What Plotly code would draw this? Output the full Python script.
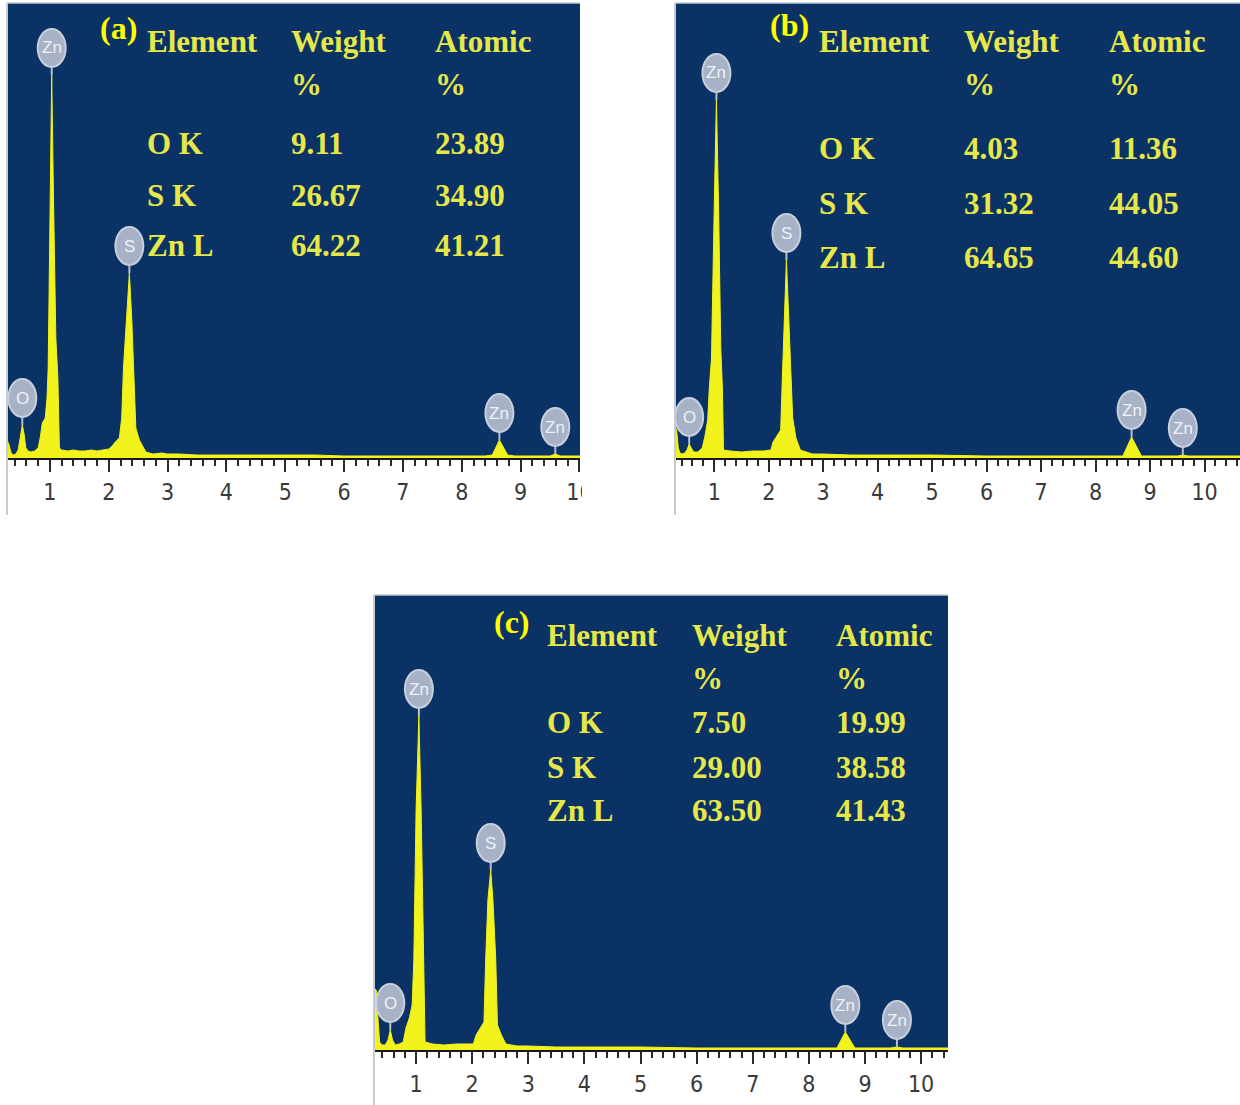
import numpy as np
import plotly.graph_objects as go

# ---------------- DATA ----------------
# EDS spectra (energy in keV, counts in arbitrary units)
energy_a = [0.27, 0.30, 0.34, 0.38, 0.42, 0.46, 0.50, 0.53, 0.56, 0.59, 0.63, 0.68, 0.74, 0.80,
            0.84, 0.87, 0.92, 0.95, 0.97, 1.00, 1.03, 1.06, 1.10, 1.135, 1.16, 1.20, 1.30, 1.40,
            1.50, 1.60, 1.70, 1.80, 1.90, 2.00, 2.06, 2.11, 2.18, 2.22, 2.25, 2.30, 2.35, 2.39,
            2.42, 2.46, 2.52, 2.58, 2.63, 2.75, 2.90, 3.00, 3.20, 3.50, 4.00, 4.50, 5.00, 5.50,
            6.00, 7.00, 8.00, 8.40, 8.52, 8.64, 8.78, 8.90, 9.50, 9.59, 9.68, 10.01]
counts_a = [18, 14, 5, 3, 4, 8, 22, 33, 24, 10, 7, 6, 7, 10,
            22, 35, 40, 60, 90, 260, 383, 260, 120, 80, 10, 8, 7, 8,
            7, 7, 8, 7, 8, 9, 12, 16, 20, 40, 90, 140, 185, 140,
            85, 30, 18, 12, 6, 4, 5, 4, 4, 3, 3, 3, 3, 3,
            2, 2, 2, 2, 3, 18, 3, 2, 2, 4, 2, 2]

energy_b = [0.28, 0.31, 0.34, 0.37, 0.41, 0.46, 0.50, 0.54, 0.58, 0.62, 0.70, 0.78, 0.83, 0.88,
            0.91, 0.95, 1.00, 1.04, 1.08, 1.12, 1.15, 1.17, 1.30, 1.50, 1.70, 1.90, 2.04, 2.08,
            2.15, 2.22, 2.25, 2.29, 2.325, 2.36, 2.41, 2.44, 2.50, 2.58, 2.80, 3.00, 3.50, 4.00,
            5.00, 6.00, 7.00, 8.00, 8.50, 8.66, 8.84, 9.50, 9.60, 9.70, 10.65]
counts_b = [31, 28, 10, 5, 4, 5, 8, 14, 10, 6, 6, 10, 22, 38,
            70, 100, 250, 358, 250, 110, 70, 8, 7, 6, 7, 7, 8, 16,
            22, 28, 80, 150, 198, 150, 80, 40, 20, 8, 4, 4, 3, 3,
            3, 2, 2, 2, 2, 21, 2, 2, 3, 2, 2]

energy_c = [0.25, 0.29, 0.31, 0.35, 0.39, 0.45, 0.50, 0.54, 0.58, 0.63, 0.70, 0.77, 0.82, 0.88,
            0.93, 0.96, 1.00, 1.05, 1.09, 1.12, 1.14, 1.16, 1.30, 1.50, 1.70, 1.90, 2.02, 2.07,
            2.15, 2.21, 2.24, 2.28, 2.33, 2.37, 2.42, 2.45, 2.52, 2.60, 2.80, 3.00, 3.50, 4.00,
            5.00, 6.00, 7.00, 8.00, 8.50, 8.65, 8.82, 9.45, 9.57, 9.68, 10.48]
counts_c = [62, 60, 40, 8, 5, 5, 10, 20, 10, 5, 6, 8, 22, 32,
            45, 90, 240, 334, 240, 130, 90, 8, 6, 5, 6, 6, 6, 15,
            23, 28, 90, 150, 180, 150, 90, 25, 15, 6, 4, 4, 3, 3,
            3, 2, 2, 2, 2, 18, 2, 2, 3, 2, 2]

# element markers on the spectra
peak_labels = ["O", "Zn", "S", "Zn", "Zn"]
peak_energy_a = [0.53, 1.03, 2.35, 8.64, 9.59]
peak_energy_b = [0.54, 1.04, 2.325, 8.66, 9.60]
peak_energy_c = [0.54, 1.05, 2.33, 8.65, 9.57]

# quantification tables
elements = ["O K", "S K", "Zn L"]
weight_a = [9.11, 26.67, 64.22]
atomic_a = [23.89, 34.90, 41.21]
weight_b = [4.03, 31.32, 64.65]
atomic_b = [11.36, 44.05, 44.60]
weight_c = [7.50, 29.00, 63.50]
atomic_c = [19.99, 38.58, 41.43]
panel_tags = ["(a)", "(b)", "(c)"]
header = ["Element", "Weight", "Atomic"]

# ---------------- LAYOUT ----------------
W, H = 1240, 1105
NAVY = "#0a3264"
YEL = "#f2f21c"
TXT = "#e6e84a"


def px(xp):
    return xp / W


def py(yp):
    return 1 - yp / H


panels = [
    dict(box=(7, 580, 3, 458), rng=[0.27, 10.01], E=energy_a, C=counts_a, pe=peak_energy_a,
         wt=weight_a, at=atomic_a, cols=[145, 289, 433], hy=42, pcty=85, rows=[144, 195, 246],
         tag=(98, 28), line_bot=515),
    dict(box=(675, 1240, 3, 458), rng=[0.28, 10.65], E=energy_b, C=counts_b, pe=peak_energy_b,
         wt=weight_b, at=atomic_b, cols=[817, 962, 1107], hy=42, pcty=85, rows=[149, 203, 257],
         tag=(768, 25), line_bot=515),
    dict(box=(374, 948, 595, 1050), rng=[0.25, 10.48], E=energy_c, C=counts_c, pe=peak_energy_c,
         wt=weight_c, at=atomic_c, cols=[545, 690, 834], hy=635, pcty=678, rows=[722, 767, 811],
         tag=(492, 622), line_bot=1105),
]

fig = go.Figure()
shapes = []
annotations = []
layout_axes = {}

for i, p in enumerate(panels):
    n = "" if i == 0 else str(i + 1)
    xa, ya = "x" + n, "y" + n
    l, r, t, b = p["box"]
    hpx = b - t
    kev_px = (r - l) / (p["rng"][1] - p["rng"][0])

    fig.add_trace(go.Scatter(
        x=p["E"], y=p["C"], mode="lines", fill="tozeroy",
        line=dict(color=YEL, width=1), fillcolor=YEL,
        xaxis=xa, yaxis=ya, showlegend=False, hoverinfo="skip"))

    layout_axes["xaxis" + n] = dict(
        domain=[px(l), px(r)], anchor=ya, range=p["rng"], automargin=False,
        tickmode="linear", tick0=0, dtick=1,
        ticks="outside", ticklen=12, tickwidth=2, tickcolor="#2a2a2a",
        minor=dict(tickmode="linear", tick0=0, dtick=0.2, ticks="outside",
                   ticklen=6, tickwidth=2, tickcolor="#2a2a2a"),
        showline=True, linecolor="#1a1a1a", linewidth=2,
        showgrid=False, zeroline=False, ticklabelstandoff=0,
        tickfont=dict(family="Liberation Sans Narrow, DejaVu Sans Condensed, Roboto Condensed, Arial",
                      size=23, color="#3a3a3a"),
        fixedrange=True)
    layout_axes["yaxis" + n] = dict(
        domain=[py(b), py(t)], anchor=xa, range=[0, hpx], visible=False,
        automargin=False, fixedrange=True)

    # navy background box
    shapes.append(dict(type="rect", xref="paper", yref="paper", layer="below",
                       x0=px(l), x1=px(r), y0=py(b), y1=py(t),
                       fillcolor=NAVY, line=dict(width=0)))
    # light border lines (left, top)
    shapes.append(dict(type="line", xref="paper", yref="paper", layer="above",
                       x0=px(l), x1=px(l), y0=py(p["line_bot"]), y1=py(t),
                       line=dict(color="#c5ccd6", width=2)))
    shapes.append(dict(type="line", xref="paper", yref="paper", layer="above",
                       x0=px(l), x1=px(r), y0=py(t), y1=py(t),
                       line=dict(color="#c5ccd6", width=1.5)))

    # element badges
    E = np.array(p["E"]); C = np.array(p["C"])
    for lab, e in zip(peak_labels, p["pe"]):
        mask = np.abs(E - e) <= 0.07
        h = float(C[mask].max()) if mask.any() else float(np.interp(e, E, C))
        half_w = 14 / kev_px
        y0 = h + 8
        y1 = y0 + 38
        shapes.append(dict(type="line", xref=xa, yref=ya, layer="above",
                           x0=e, x1=e, y0=h, y1=y0 + 2,
                           line=dict(color="#b7bfcf", width=2)))
        shapes.append(dict(type="circle", xref=xa, yref=ya, layer="above",
                           x0=e - half_w, x1=e + half_w, y0=y0, y1=y1,
                           fillcolor="#a8b2c7", line=dict(color="#c8cfdc", width=2)))
        annotations.append(dict(x=e, y=(y0 + y1) / 2, xref=xa, yref=ya, text=lab,
                                showarrow=False, xanchor="center", yanchor="middle",
                                font=dict(family="Liberation Sans, Arial", size=17,
                                          color="#eef1f7")))

    # table text
    tf = dict(family="Liberation Serif, Times New Roman, serif", size=31,
              color=TXT, weight="bold")
    for c, hd in zip(p["cols"], header):
        annotations.append(dict(x=px(c), y=py(p["hy"]), xref="paper", yref="paper",
                                text=hd, showarrow=False, xanchor="left",
                                yanchor="middle", font=tf))
    for c in p["cols"][1:]:
        annotations.append(dict(x=px(c), y=py(p["pcty"]), xref="paper", yref="paper",
                                text="%", showarrow=False, xanchor="left",
                                yanchor="middle", font=tf))
    for ry, el, w, a in zip(p["rows"], elements, p["wt"], p["at"]):
        for c, s in zip(p["cols"], [el, f"{w:.2f}", f"{a:.2f}"]):
            annotations.append(dict(x=px(c), y=py(ry), xref="paper", yref="paper",
                                    text=s, showarrow=False, xanchor="left",
                                    yanchor="middle", font=tf))
    annotations.append(dict(x=px(p["tag"][0]), y=py(p["tag"][1]), xref="paper",
                            yref="paper", text=panel_tags[i], showarrow=False,
                            xanchor="left", yanchor="middle",
                            font=dict(family="Liberation Serif, Times New Roman, serif",
                                      size=32, color="#ffff00", weight="bold")))

# crop the partially visible "10" label of panel (a)
shapes.append(dict(type="rect", xref="paper", yref="paper", layer="above",
                   x0=px(582), x1=px(640), y0=py(515), y1=py(462),
                   fillcolor="white", line=dict(width=0)))

fig.update_layout(
    width=W, height=H, autosize=False, margin=dict(l=0, r=0, t=0, b=0, pad=0),
    paper_bgcolor="white", plot_bgcolor=NAVY,
    shapes=shapes, annotations=annotations, showlegend=False,
    **layout_axes)

fig.write_html(
    "out.html",
    config={"displayModeBar": False, "responsive": False},
    post_script=(
        "document.documentElement.style.margin='0';"
        "document.documentElement.style.overflow='hidden';"
        "document.body.style.margin='0';document.body.style.padding='0';"
        "document.body.style.overflow='hidden';"
    ),
)
